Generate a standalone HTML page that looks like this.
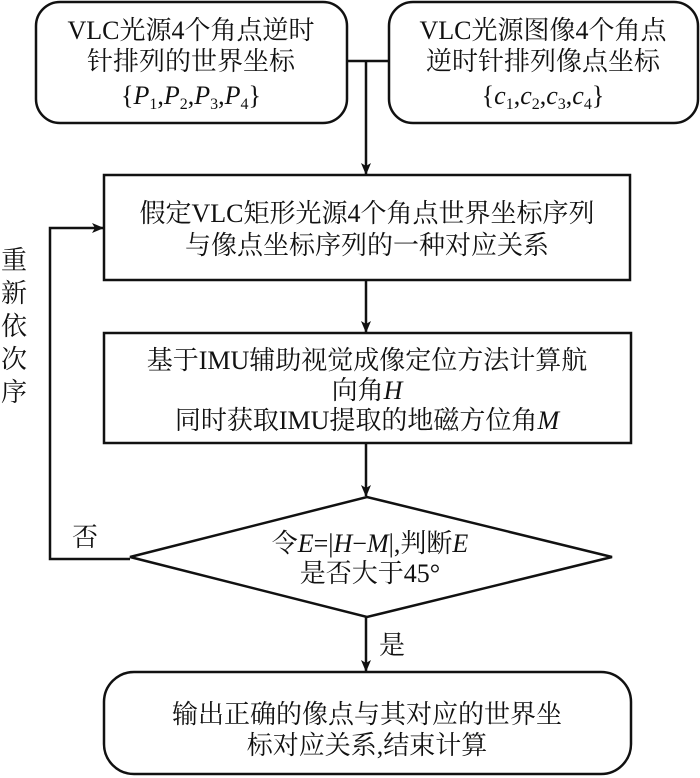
<!DOCTYPE html>
<html><head><meta charset="utf-8"><style>
html,body{margin:0;padding:0;background:#fff;}
svg{display:block}
text{font-family:"Liberation Serif","Noto Serif CJK SC",serif;font-size:26px;fill:#111;}
.i{font-style:italic}
</style></head><body>
<svg width="700" height="778" viewBox="0 0 700 778" xmlns="http://www.w3.org/2000/svg">
<defs><marker id="a" markerWidth="12" markerHeight="12" refX="11" refY="6" orient="auto" markerUnits="userSpaceOnUse"><path d="M0,1 L12,6 L0,11 L3,6 Z" fill="#111"/></marker></defs>
<g fill="none" stroke="#111" stroke-width="2.5">
<rect x="36" y="2" width="311" height="121" rx="24"/>
<rect x="389" y="2" width="309" height="121" rx="24"/>
<rect x="104" y="175" width="526" height="105"/>
<rect x="104" y="333" width="527" height="110"/>
<polygon points="130,557 367,497 612,557 367,617"/>
<rect x="104" y="672" width="527" height="102" rx="30"/>
<line x1="347" y1="61" x2="389" y2="61"/>
<line x1="366" y1="61" x2="366" y2="174" marker-end="url(#a)"/>
<line x1="366" y1="280" x2="366" y2="332" marker-end="url(#a)"/>
<line x1="366" y1="443" x2="366" y2="496" marker-end="url(#a)"/>
<line x1="366" y1="617" x2="366" y2="671" marker-end="url(#a)"/>
<polyline points="130,559 50,559 50,228 103,228" marker-end="url(#a)"/>
</g>
<g text-anchor="middle">
<text x="191" y="39">VLC光源4个角点逆时</text>
<text x="191" y="70">针排列的世界坐标</text>
<text x="191" y="104">{<tspan class="i">P</tspan><tspan font-size="16" dy="5">1</tspan><tspan dy="-5">,</tspan><tspan class="i">P</tspan><tspan font-size="16" dy="5">2</tspan><tspan dy="-5">,</tspan><tspan class="i">P</tspan><tspan font-size="16" dy="5">3</tspan><tspan dy="-5">,</tspan><tspan class="i">P</tspan><tspan font-size="16" dy="5">4</tspan><tspan dy="-5">}</tspan></text>
<text x="543" y="39">VLC光源图像4个角点</text>
<text x="543" y="70">逆时针排列像点坐标</text>
<text x="543" y="104">{<tspan class="i">c</tspan><tspan font-size="16" dy="5">1</tspan><tspan dy="-5">,</tspan><tspan class="i">c</tspan><tspan font-size="16" dy="5">2</tspan><tspan dy="-5">,</tspan><tspan class="i">c</tspan><tspan font-size="16" dy="5">3</tspan><tspan dy="-5">,</tspan><tspan class="i">c</tspan><tspan font-size="16" dy="5">4</tspan><tspan dy="-5">}</tspan></text>
<text x="367" y="222">假定VLC矩形光源4个角点世界坐标序列</text>
<text x="367" y="254">与像点坐标序列的一种对应关系</text>
<text x="367" y="369">基于IMU辅助视觉成像定位方法计算航</text>
<text x="367" y="399">向角<tspan class="i">H</tspan></text>
<text x="367" y="429">同时获取IMU提取的地磁方位角<tspan class="i">M</tspan></text>
<text x="370" y="552">令<tspan class="i">E</tspan>=|<tspan class="i">H</tspan>−<tspan class="i">M</tspan>|,判断<tspan class="i">E</tspan></text>
<text x="370" y="582">是否大于45°</text>
<text x="367" y="723">输出正确的像点与其对应的世界坐</text>
<text x="367" y="754">标对应关系,结束计算</text>
<text x="85" y="546">否</text>
<text x="392" y="654">是</text>
<text x="14" y="269">重</text>
<text x="14" y="302">新</text>
<text x="14" y="335">依</text>
<text x="14" y="368">次</text>
<text x="14" y="401">序</text>
</g>
</svg>
</body></html>
